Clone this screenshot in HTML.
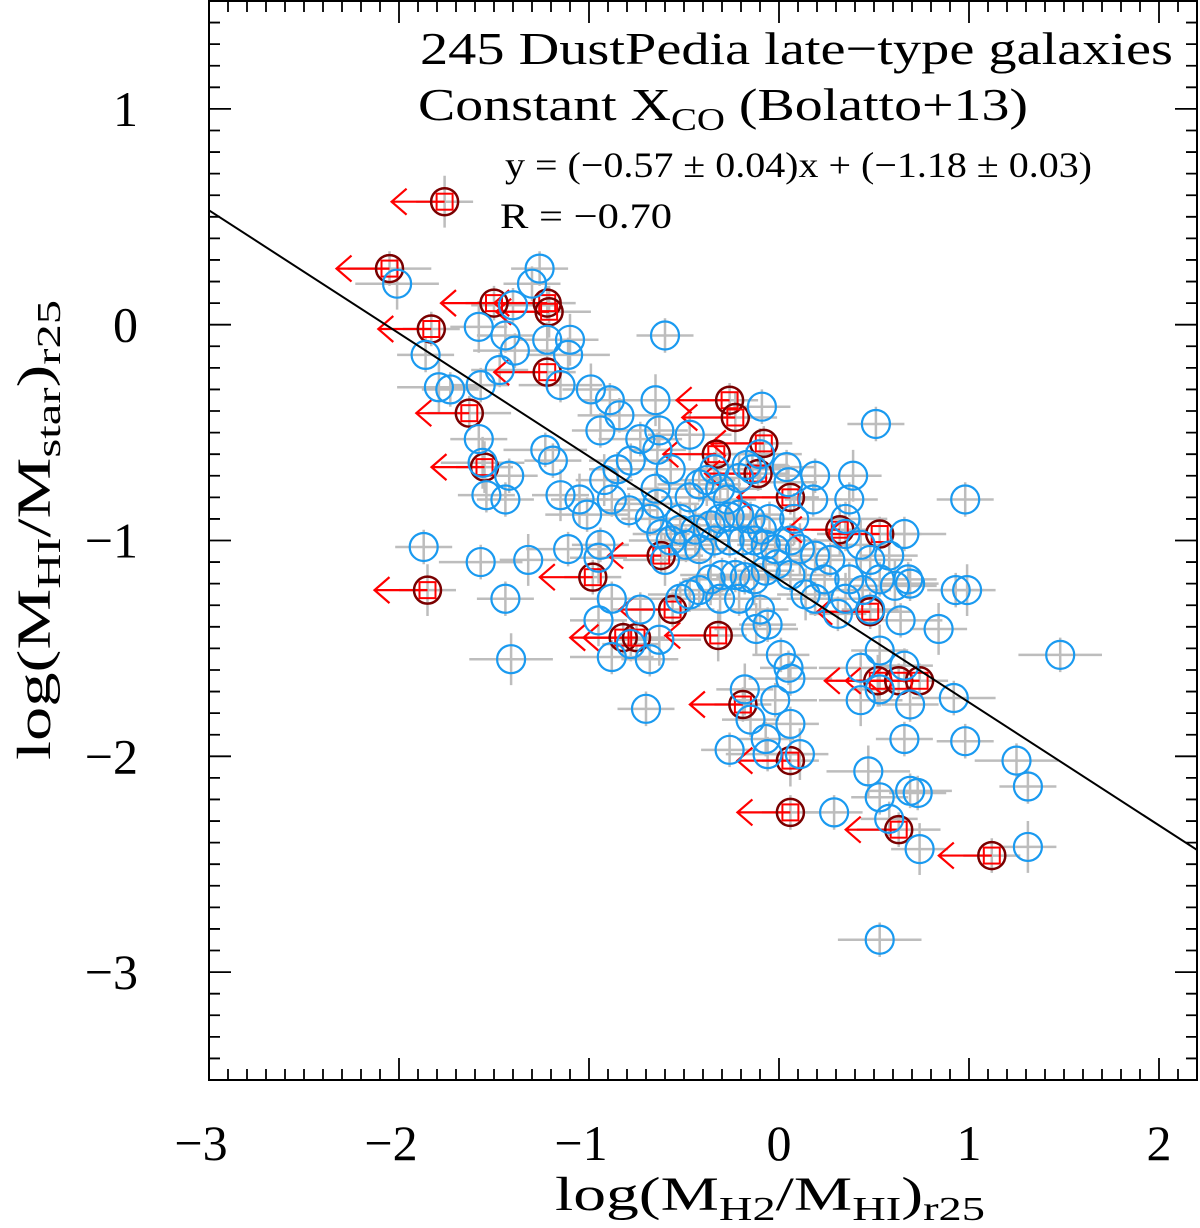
<!DOCTYPE html>
<html><head><meta charset="utf-8"><style>
html,body{margin:0;padding:0;background:#fff;}
svg{display:block;font-family:"Liberation Serif",serif;}
</style></head><body>
<svg id="chart" width="1200" height="1228" viewBox="0 0 1200 1228">
<g id="marks"></g>
<g id="axes"></g>
<text x="420" y="64" font-size="46" textLength="753" lengthAdjust="spacingAndGlyphs">245 DustPedia late−type galaxies</text>
<text x="418" y="120" font-size="46" textLength="610" lengthAdjust="spacingAndGlyphs">Constant X<tspan font-size="32" dy="10">CO</tspan><tspan dy="-10">  (Bolatto+13)</tspan></text>
<text x="505" y="177" font-size="36" textLength="587" lengthAdjust="spacingAndGlyphs">y = (−0.57 ± 0.04)x + (−1.18 ± 0.03)</text>
<text x="500" y="228" font-size="36" textLength="172" lengthAdjust="spacingAndGlyphs">R = −0.70</text>
<text transform="translate(50,530) rotate(-90)" font-size="48" text-anchor="middle" textLength="460" lengthAdjust="spacingAndGlyphs">log(M<tspan font-size="34" dy="10">HI</tspan><tspan dy="-10">/M</tspan><tspan font-size="34" dy="10">star</tspan><tspan dy="-10">)</tspan><tspan font-size="34" dy="10">r25</tspan></text>
<text x="770" y="1210" font-size="48" text-anchor="middle" textLength="430" lengthAdjust="spacingAndGlyphs">log(M<tspan font-size="34" dy="10">H2</tspan><tspan dy="-10">/M</tspan><tspan font-size="34" dy="10">HI</tspan><tspan dy="-10">)</tspan><tspan font-size="34" dy="10">r25</tspan></text>
</svg>
<script>
const xTicks=[-3,-2,-1,0,1,2];
const yTicks=[1,0,-1,-2,-3];
const xTickLabels=["−3","−2","−1","0","1","2"];
const yTickLabels=["1","0","−1","−2","−3"];
const fitSlope=-0.57, fitIntercept=-1.18;
const blueX=[-2.01,-1.26,-1.30,-1.40,-1.58,-1.44,-1.39,-1.22,-1.10,-1.11,-1.47,-1.57,-1.79,-1.86,-1.73,-1.15,-0.99,-0.89,-0.84,-0.94,-0.65,-0.73,-0.60,-0.63,-0.47,-0.64,-0.57,-0.78,-0.92,-0.85,-0.88,-0.79,-1.05,-1.11,-1.42,-1.44,-1.56,-1.54,-1.58,-1.23,-1.15,-1.19,-1.01,-0.94,-0.95,-0.64,-0.68,-0.62,-0.60,-0.52,-0.47,-0.42,-0.38,-0.34,-0.31,-0.27,-0.21,-0.17,-0.09,-0.14,-0.10,0.04,0.05,0.19,0.39,0.37,0.35,0.18,0.08,-0.05,-0.09,-0.15,-0.21,-0.26,-0.31,-0.36,-0.44,-0.52,-0.57,-0.49,-0.42,-0.34,-0.26,-0.19,-0.13,-0.07,-0.02,0.06,0.11,0.19,0.27,0.35,0.43,0.66,0.58,0.68,0.61,0.53,0.44,0.37,0.35,0.31,0.24,0.19,0.14,0.06,-0.01,-0.07,-0.13,-0.18,-0.23,-0.30,-0.36,-0.42,-0.47,-0.52,-0.31,-0.21,-0.10,-0.06,-0.12,0.01,0.05,0.06,-0.18,-0.15,-0.02,0.06,0.11,-0.06,-0.07,-0.26,-0.63,-0.68,-0.78,-0.88,-0.95,-0.73,-0.88,-0.70,-1.32,-1.57,-1.44,-1.87,-1.41,0.51,0.98,1.48,0.99,0.93,0.64,0.48,0.53,0.43,0.66,0.53,0.43,0.69,0.66,0.92,0.84,0.98,1.25,1.31,1.31,0.69,0.53,0.73,0.47,0.29,0.58,0.53,0.74,0.69,0.48,-0.65];
const blueY=[0.19,0.26,0.19,0.09,-0.01,-0.05,-0.12,-0.07,-0.07,-0.14,-0.21,-0.28,-0.29,-0.14,-0.30,-0.28,-0.30,-0.35,-0.42,-0.49,-0.35,-0.53,-0.05,-0.49,-0.51,-0.58,-0.67,-0.63,-0.72,-0.67,-0.81,-0.86,-0.81,-1.04,-0.70,-0.81,-0.64,-0.79,-0.53,-0.58,-0.79,-0.63,-0.88,-1.02,-1.08,-0.83,-0.90,-0.97,-1.09,-0.90,-0.80,-0.74,-0.72,-0.67,-0.76,-0.81,-0.71,-0.65,-0.38,-0.67,-0.60,-0.66,-0.73,-0.70,-0.70,-0.81,-0.90,-0.81,-0.90,-0.90,-0.95,-0.90,-0.88,-0.89,-0.90,-0.93,-0.95,-0.95,-1.00,-1.02,-1.04,-1.00,-1.00,-1.00,-1.00,-1.02,-1.04,-1.00,-1.04,-1.07,-1.09,-0.97,-1.02,-0.97,-1.07,-1.18,-1.21,-1.18,-1.23,-1.18,-1.27,-1.34,-1.18,-1.27,-1.25,-1.16,-1.11,-1.14,-1.18,-1.17,-1.16,-1.16,-1.18,-1.23,-1.25,-1.27,-1.27,-1.27,-1.32,-1.39,-1.41,-1.53,-1.59,-1.64,-1.69,-1.83,-1.74,-1.85,-1.99,-1.99,-1.92,-1.97,-1.46,-1.55,-1.48,-1.27,-1.37,-1.32,-1.54,-1.78,-1.09,-1.10,-1.27,-1.03,-1.55,-0.46,-0.81,-1.53,-1.23,-1.23,-1.37,-1.32,-1.51,-1.59,-1.58,-1.69,-1.74,-1.76,-1.92,-1.73,-1.41,-1.93,-2.02,-2.14,-2.42,-2.16,-2.19,-2.17,-2.07,-2.26,-2.29,-2.85,-2.43,-1.20,-1.09,-0.76];
const redX=[-1.76,-2.05,-1.50,-1.22,-1.21,-1.83,-1.22,-1.63,-1.55,-0.98,-0.82,-0.75,-0.32,-0.56,-0.19,-0.26,-0.23,-0.08,0.06,0.53,0.06,0.06,0.63,1.12,-1.85,0.48,-0.33,-0.11,0.52,0.63,0.74,-0.62,0.32];
const redY=[0.57,0.26,0.10,0.10,0.06,-0.02,-0.22,-0.41,-0.66,-1.17,-1.45,-1.45,-1.44,-1.32,-1.76,-0.35,-0.43,-0.55,-0.80,-0.97,-2.02,-2.26,-2.34,-2.46,-1.23,-1.33,-0.60,-0.69,-1.65,-1.65,-1.65,-1.07,-0.95];

const X0=209,X1=1197,Y0=1,Y1=1080,xmin=-3,xmax=2.2,ymin=-3.5,ymax=1.5;
const sx=v=>X0+(v-xmin)/(xmax-xmin)*(X1-X0);
const sy=v=>Y1-(v-ymin)/(ymax-ymin)*(Y1-Y0);
const NS="http://www.w3.org/2000/svg";
function mk(tag,attrs,parent){const e=document.createElementNS(NS,tag);for(const k in attrs)e.setAttribute(k,attrs[k]);parent.appendChild(e);return e;}
const marks=document.getElementById('marks'),axes=document.getElementById('axes');
const clip=mk('clipPath',{id:'pc'},marks);mk('rect',{x:X0,y:Y0,width:X1-X0,height:Y1-Y0},clip);
const g=mk('g',{'clip-path':'url(#pc)'},marks);
const allX=blueX.concat(redX), allY=blueY.concat(redY);
for(let i=0;i<allX.length;i++){
  const cx=sx(allX[i]),cy=sy(allY[i]);
  const ex=(i%3===0?0.22:0.15)*190, ey=(i%4===0?0.12:0.08)*216;
  const eb=mk('path',{d:`M${cx-ex},${cy}H${cx+ex}M${cx},${cy-ey}V${cy+ey}`,stroke:'#bdbdbd','stroke-width':2.5,fill:'none'},g);
  
  
}
for(let i=0;i<redX.length;i++){
  const cx=sx(redX[i]),cy=sy(redY[i]),L=53;
  const a=mk('path',{d:`M${cx},${cy}H${cx-L}M${cx-L+15},${cy-13}L${cx-L},${cy}L${cx-L+15},${cy+13}`,stroke:'#ff0000','stroke-width':2.2,fill:'none'},g);
  
  
}
for(let i=0;i<redX.length;i++){
  const cx=sx(redX[i]),cy=sy(redY[i]);
  const c=mk('circle',{cx:cx,cy:cy,r:13.5,fill:'none',stroke:'#7a0000','stroke-width':2.5},g);
  
  
  mk('rect',{x:cx-8,y:cy-8,width:16,height:16,fill:'none',stroke:'#ff0000','stroke-width':2},g);
}
for(let i=0;i<blueX.length;i++){
  const c=mk('circle',{cx:sx(blueX[i]),cy:sy(blueY[i]),r:14,fill:'none',stroke:'#1a9af0','stroke-width':2.2},g);
  
  
}
const fl=mk('line',{x1:sx(xmin),y1:sy(fitSlope*xmin+fitIntercept),x2:sx(xmax),y2:sy(fitSlope*xmax+fitIntercept),stroke:'#000','stroke-width':2},g);


const fr=mk('rect',{x:X0,y:Y0,width:X1-X0,height:Y1-Y0,fill:'none',stroke:'#000','stroke-width':2},axes);


let d='';
for(let k=-30;k<=22;k++){const v=k/10,x=sx(v),len=(k%10===0)?22:11;d+=`M${x},${Y1}V${Y1-len}M${x},${Y0}V${Y0+len}`;}
for(let k=-35;k<=15;k++){const v=k/10,y=sy(v),len=(k%10===0)?22:11;d+=`M${X0},${y}H${X0+len}M${X1},${y}H${X1-len}`;}
mk('path',{d:d,stroke:'#000','stroke-width':1.8,fill:'none'},axes);
for(let i=0;i<xTicks.length;i++){
  const t=mk('text',{x:sx(xTicks[i])-(xTickLabels[i].startsWith('−')?8:0),y:1160,'font-size':50,'text-anchor':'middle'},axes);
  t.textContent=xTickLabels[i];
  
  
}
for(let i=0;i<yTicks.length;i++){
  const t=mk('text',{x:138,y:sy(yTicks[i])+17,'font-size':50,'text-anchor':'end'},axes);
  t.textContent=yTickLabels[i];
  
  
}
</script>
</body></html>
